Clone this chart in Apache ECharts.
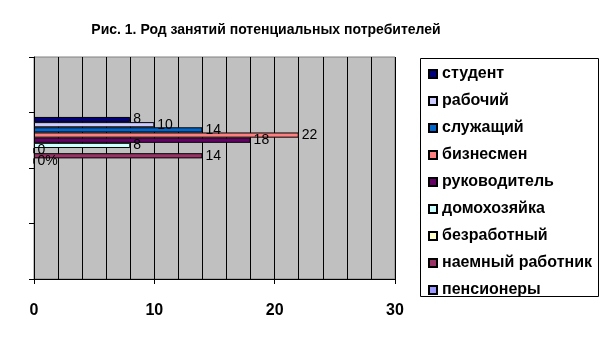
<!DOCTYPE html>
<html>
<head>
<meta charset="utf-8">
<script src="https://cdn.jsdelivr.net/npm/echarts@6/dist/echarts.min.js"></script>
<style>
  html, body { margin: 0; padding: 0; background: #fff; }
  #chart { width: 608px; height: 343px; }
</style>
</head>
<body>
<div id="chart"></div>
<script>
// Occupation groups of potential customers
const occupations = ['студент', 'рабочий', 'служащий', 'бизнесмен', 'руководитель',
  'домохозяйка', 'безработный', 'наемный работник', 'пенсионеры'];
const counts = [8, 10, 14, 22, 18, 8, 0, 14, 0];
const valueLabels = ['8', '10', '14', '22', '18', '8', '0', '14', '0%'];
const colors = ['#000080', '#CCCCFF', '#0066CC', '#FF8080', '#660066',
  '#CCFFFF', '#FFFFCC', '#993366', '#9999FF'];
// category slots on the vertical axis; values sit in the second slot from the top
const slots = ['a', 'b', 'c', 'd'];
const filledSlot = 1;
const xTicks = [0, 10, 20, 30];

const FONT = 'Arial, "Liberation Sans", sans-serif';
const chart = echarts.init(document.getElementById('chart'));

const series = occupations.map((name, i) => ({
  name: name,
  type: 'bar',
  barGap: '0%',
  barCategoryGap: '16%',
  data: slots.map((s, k) => (k === filledSlot ? counts[i] : null)),
  itemStyle: { color: colors[i], borderColor: '#000', borderWidth: 1 },
  label: {
    show: true,
    position: 'right',
    distance: 3,
    color: '#000',
    fontFamily: FONT,
    fontSize: 14,
    formatter: () => valueLabels[i]
  },
  animation: false
}));

chart.setOption({
  animation: false,
  title: {
    text: 'Рис. 1. Род занятий потенциальных потребителей',
    left: 261,
    textAlign: 'center',
    top: 18,
    textStyle: { fontFamily: FONT, fontSize: 14, fontWeight: 'bold', color: '#000' }
  },
  graphic: [{
    type: 'rect',
    shape: { x: 420.5, y: 58.5, width: 178, height: 238 },
    style: { fill: '#fff', stroke: '#000', lineWidth: 1 },
    z: -1
  }],
  legend: {
    orient: 'vertical',
    left: 423,
    top: 60,
    itemWidth: 8,
    itemHeight: 8,
    itemGap: 9,
    icon: 'rect',
    textStyle: {
      fontFamily: FONT,
      fontSize: 16,
      fontWeight: 'bold',
      color: '#000',
      lineHeight: 18
    },
    data: occupations
  },
  grid: {
    left: 34,
    right: 213,
    top: 57,
    bottom: 64,
    show: true,
    backgroundColor: '#C0C0C0',
    borderColor: '#808080',
    borderWidth: 1
  },
  xAxis: {
    type: 'value',
    min: xTicks[0],
    max: xTicks[xTicks.length - 1],
    interval: 10,
    axisLine: { show: true, lineStyle: { color: '#000', width: 1 } },
    axisTick: { show: true, length: 5, lineStyle: { color: '#000' } },
    splitLine: { show: true, lineStyle: { color: '#000', width: 1 } },
    minorTick: { show: false, splitNumber: 5 },
    minorSplitLine: { show: true, lineStyle: { color: '#000', width: 1 } },
    axisLabel: {
      margin: 24,
      color: '#000',
      fontFamily: FONT,
      fontSize: 16,
      fontWeight: 'bold'
    }
  },
  yAxis: {
    type: 'category',
    inverse: true,
    data: slots,
    axisLine: { show: true, lineStyle: { color: '#000', width: 1 } },
    axisTick: { show: true, length: 5, lineStyle: { color: '#000' } },
    axisLabel: { show: false },
    splitLine: { show: false }
  },
  series: series
});
</script>
</body>
</html>
